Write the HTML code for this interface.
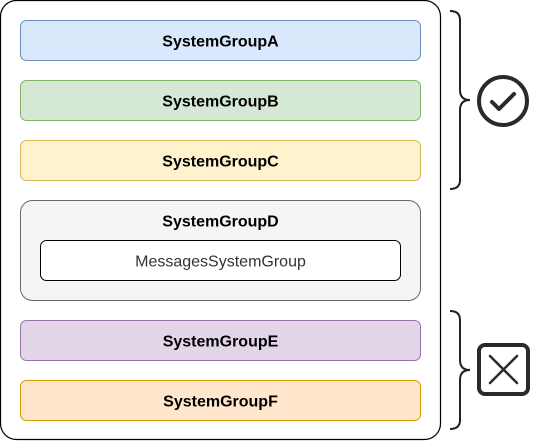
<!DOCTYPE html>
<html><head><style>body{margin:0;background:#fff}</style></head><body>
<svg width="539" height="441" viewBox="0 0 539 441" xmlns="http://www.w3.org/2000/svg" font-family="Liberation Sans, Arial, sans-serif" font-size="16">
<rect x="0.5" y="0.5" width="440" height="439" rx="16" fill="#fff" stroke="#000" stroke-width="1.2"/>
<rect x="20.5" y="20.5" width="400" height="40" rx="6" fill="#dae8fc" stroke="#6c8ebf"/>
<text x="220.5" y="46.5" text-anchor="middle" font-weight="bold">SystemGroupA</text>
<rect x="20.5" y="80.5" width="400" height="40" rx="6" fill="#d5e8d4" stroke="#82b366"/>
<text x="220.5" y="106.5" text-anchor="middle" font-weight="bold">SystemGroupB</text>
<rect x="20.5" y="140.5" width="400" height="40" rx="6" fill="#fff2cc" stroke="#d6b656"/>
<text x="220.5" y="166.5" text-anchor="middle" font-weight="bold">SystemGroupC</text>
<rect x="20.5" y="200.5" width="400" height="100" rx="12" fill="#f5f5f5" stroke="#666"/>
<text x="220.5" y="226.5" text-anchor="middle" font-weight="bold">SystemGroupD</text>
<rect x="40.5" y="240.5" width="360" height="40" rx="6" fill="#fff" stroke="#000"/>
<text x="220.5" y="266.5" text-anchor="middle" fill="#333">MessagesSystemGroup</text>
<rect x="20.5" y="320.5" width="400" height="40" rx="6" fill="#e1d5e7" stroke="#9673a6"/>
<text x="220.5" y="346.5" text-anchor="middle" font-weight="bold">SystemGroupE</text>
<rect x="20.5" y="380.5" width="400" height="40" rx="6" fill="#ffe6cc" stroke="#d79b00"/>
<text x="220.5" y="406.5" text-anchor="middle" font-weight="bold">SystemGroupF</text>
<g fill="none" stroke="#222" stroke-width="2">
<path d="M450 11 Q460 11 460 20 L460 90 Q460 100 470 100 Q460 100 460 110 L460 180 Q460 189 450 189"/>
<path d="M450 311 Q460 311 460 320 L460 360 Q460 370 470 370 Q460 370 460 380 L460 420 Q460 429 450 429"/>
</g>
<g fill="none" stroke="#2a2a2a" stroke-width="4" stroke-linecap="round" stroke-linejoin="round">
<circle cx="503" cy="101" r="24"/>
<path d="M492 102 L499 109 L514 94"/>
<rect x="479" y="345" width="49" height="49" rx="6"/>
<path d="M490 356 L517 383 M517 356 L490 383" stroke-width="2.5"/>
</g>
</svg>
</body></html>
